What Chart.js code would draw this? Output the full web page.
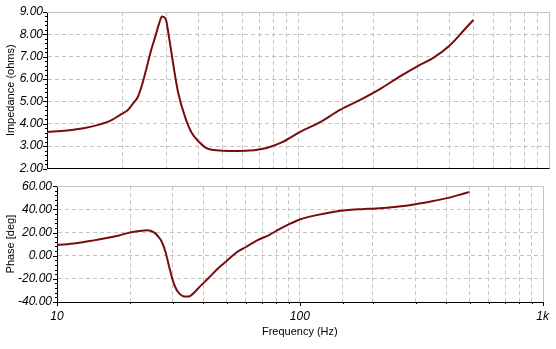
<!DOCTYPE html>
<html>
<head>
<meta charset="utf-8">
<script src="https://cdn.jsdelivr.net/npm/chart.js@4.4.1/dist/chart.umd.min.js"></script>
<style>
  body { margin: 0; background: #fff; }
  #wrap { position: relative; width: 556px; height: 349px; }
  canvas { position: absolute; left: 0; }
  #impChart { top: 0; }
  #phaseChart { top: 174px; }
</style>
</head>
<body>
<div id="wrap">
  <canvas id="impChart" width="556" height="180"></canvas>
  <canvas id="phaseChart" width="556" height="175"></canvas>
</div>
<script>
'use strict';

// impedance curve
let impFreq = [10, 12, 14, 16, 18, 19.5, 21, 22, 23, 24, 25, 26, 27, 28, 28.7, 29.7, 30.5, 31.9, 33.3, 35.5, 37.7, 40.7, 43, 49, 55, 64, 75, 87, 102, 122, 147, 177, 212, 255, 300, 346, 400, 456, 500];
let impedance = [3.63, 3.70, 3.80, 3.95, 4.15, 4.39, 4.62, 4.90, 5.20, 5.80, 6.55, 7.30, 7.90, 8.50, 8.80, 8.70, 8.00, 6.60, 5.40, 4.30, 3.60, 3.15, 2.92, 2.80, 2.78, 2.80, 2.92, 3.19, 3.64, 4.06, 4.62, 5.07, 5.55, 6.12, 6.58, 6.95, 7.48, 8.16, 8.65];

// phase curve
let phaseFreq = [10, 12, 14, 16, 18, 20, 22, 23.5, 25, 26, 27, 28, 29, 30, 31, 32, 33.5, 35, 36.5, 38, 42, 46, 50, 55, 60, 67, 75, 81, 90, 100, 117, 135, 155, 180, 206, 250, 300, 350, 400, 450, 500];
let phase = [9.1, 10.8, 13.0, 15.2, 17.5, 20.0, 21.3, 21.9, 20.3, 17.0, 12.0, 3.0, -10.0, -21.5, -29.0, -33.0, -35.3, -35.2, -32.5, -28.5, -19.5, -11.0, -4.5, 3.0, 7.5, 13.4, 18.0, 22.1, 27.0, 31.2, 35.0, 37.6, 39.3, 40.2, 40.8, 42.3, 44.5, 47.0, 49.5, 52.3, 55.1];

// axis limits
let freqMin = 10;
let freqMax = 1000;
let impTicks = [2, 9, 1];
let phaseTicks = [-40, 60, 20];

const lineColor = '#780c0f';
const gridColor = '#c4c4c4';
const tickFont = { family: 'Liberation Sans', size: 12, style: 'italic' };
const titleFont = { family: 'Liberation Sans', size: 11 };

function toPoints(xs, ys) {
  let pts = [];
  for (let i = 0; i < xs.length; i++) {
    pts.push({ x: xs[i], y: ys[i] });
  }
  return pts;
}

function freqLabel(value) {
  if (value === 10) return '10';
  if (value === 100) return '100';
  if (value === 1000) return '1k';
  return '';
}

// gray top/right frame plus short black tick marks on the axes
const frame = {
  id: 'frame',
  beforeDatasetsDraw(chart, args, opts) {
    const ctx = chart.ctx;
    const a = chart.chartArea;
    ctx.save();
    ctx.lineWidth = 1;
    ctx.strokeStyle = gridColor;
    ctx.beginPath();
    ctx.moveTo(a.left, Math.round(a.top) + 0.5);
    ctx.lineTo(Math.round(a.right) + 0.5, Math.round(a.top) + 0.5);
    ctx.lineTo(Math.round(a.right) + 0.5, a.bottom);
    ctx.stroke();

    ctx.strokeStyle = '#000';
    ctx.beginPath();
    let y = chart.scales.y;
    let step = opts.yStep / 5;
    for (let v = y.min; v <= y.max + 1e-6; v += step) {
      let py = Math.round(y.getPixelForValue(v)) + 0.5;
      let r = v / opts.yStep;
      let len = Math.abs(r - Math.round(r)) < 1e-6 ? 4 : 2;
      ctx.moveTo(a.left - len, py);
      ctx.lineTo(a.left, py);
    }
    if (opts.xTicks) {
      let x = chart.scales.x;
      x.ticks.forEach(function (t) {
        let px = Math.round(x.getPixelForValue(t.value)) + 0.5;
        let lg = Math.log10(t.value);
        let len = Math.abs(lg - Math.round(lg)) < 1e-6 ? 4 : 2;
        ctx.moveTo(px, a.bottom);
        ctx.lineTo(px, a.bottom + len);
      });
    }
    ctx.stroke();
    ctx.restore();
  }
};

function makeChart(canvas, pts, yLim, yTitle, opts) {
  return new Chart(canvas, {
    type: 'line',
    data: {
      datasets: [{
        data: pts,
        borderColor: lineColor,
        borderWidth: 2,
        pointRadius: 0,
        fill: false,
        cubicInterpolationMode: 'monotone'
      }]
    },
    options: {
      responsive: false,
      animation: false,
      devicePixelRatio: 1,
      layout: { padding: { top: 12, right: 7, left: 0, bottom: 0 } },
      plugins: {
        legend: { display: false },
        tooltip: { enabled: false },
        frame: { yStep: yLim[2], xTicks: opts.showX }
      },
      scales: {
        x: {
          type: 'logarithmic',
          min: freqMin,
          max: freqMax,
          afterFit: function (s) { s.height = opts.xHeight; },
          grid: {
            drawTicks: false,
            color: function (c) {
              return c.tick && (c.tick.value === freqMax || c.tick.value === freqMin) ? 'rgba(0,0,0,0)' : gridColor;
            }
          },
          border: { color: '#000', width: 1, dash: [4, 3] },
          ticks: {
            display: opts.showX,
            autoSkip: false,
            maxRotation: 0,
            padding: 7,
            color: '#000',
            font: tickFont,
            callback: freqLabel
          },
          title: {
            display: opts.showX,
            text: 'Frequency (Hz)',
            color: '#000',
            font: titleFont,
            padding: { top: 0, bottom: 10 }
          }
        },
        y: {
          min: yLim[0],
          max: yLim[1],
          afterFit: function (s) { s.width = opts.yWidth; },
          grid: {
            drawTicks: false,
            color: function (c) {
              return c.tick && (c.tick.value === yLim[1] || c.tick.value === yLim[0]) ? 'rgba(0,0,0,0)' : gridColor;
            }
          },
          border: { color: '#000', width: 1, dash: [4, 3] },
          ticks: {
            stepSize: yLim[2],
            padding: opts.yPad,
            color: '#000',
            font: tickFont,
            callback: function (v) { return v.toFixed(2); }
          },
          title: {
            display: true,
            text: yTitle,
            color: '#000',
            font: titleFont,
            padding: { top: 4, bottom: 0 }
          }
        }
      }
    },
    plugins: [frame]
  });
}

makeChart(document.getElementById('impChart'), toPoints(impFreq, impedance), impTicks, 'Impedance (ohms)',
  { showX: false, xHeight: 11.5, yWidth: 47, yPad: 4 });

makeChart(document.getElementById('phaseChart'), toPoints(phaseFreq, phase), phaseTicks, 'Phase [deg]',
  { showX: true, xHeight: 47, yWidth: 57, yPad: 5 });
</script>
</body>
</html>
